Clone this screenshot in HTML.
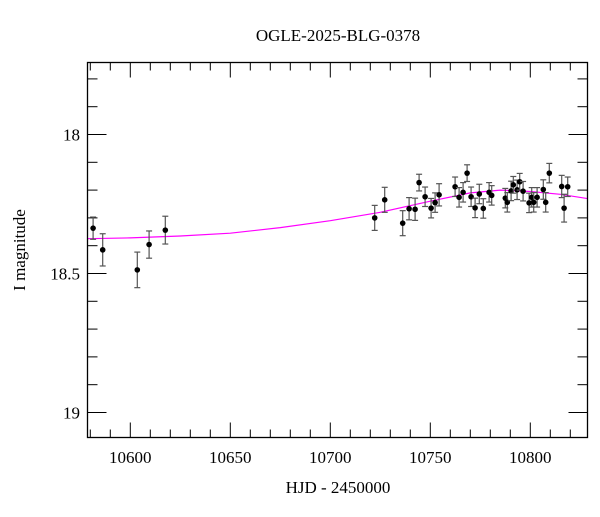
<!DOCTYPE html>
<html><head><meta charset="utf-8">
<style>
html,body{margin:0;padding:0;background:#fff;}
svg text{font-family:"Liberation Serif",serif;fill:#000;}
</style></head>
<body>
<svg id="chart" width="600" height="512" viewBox="0 0 600 512" xmlns="http://www.w3.org/2000/svg">
<text x="338" y="41" font-size="17" text-anchor="middle">OGLE-2025-BLG-0378</text>
<text x="338" y="493" font-size="17" text-anchor="middle">HJD - 2450000</text>
<text x="0" y="0" font-size="17" text-anchor="middle" transform="translate(25,250) rotate(-90)">I magnitude</text>
<g id="axes"></g>
<g id="model"></g>
<g id="points"></g>
<rect x="87.5" y="62.5" width="500" height="375" fill="none" stroke="#000" stroke-width="1.3"/>
</svg>
<script>
const days=[10581.4,10586.2,10603.5,10609.4,10617.5,10722.2,10727.2,10736.2,10739.4,10742.4,10744.4,10747.4,10750.4,10752.4,10754.4,10762.4,10764.4,10766.4,10768.4,10770.4,10772.4,10774.5,10776.5,10779.4,10780.7,10787.5,10788.5,10790.4,10791.5,10793.4,10794.7,10796.4,10799.4,10800.7,10801.7,10803.4,10806.5,10807.7,10809.5,10815.7,10816.9,10818.7];
const mags=[18.337,18.415,18.487,18.396,18.344,18.300,18.235,18.319,18.267,18.269,18.173,18.224,18.265,18.245,18.217,18.188,18.226,18.208,18.139,18.224,18.264,18.214,18.266,18.208,18.219,18.229,18.244,18.203,18.181,18.199,18.170,18.204,18.246,18.226,18.244,18.226,18.198,18.244,18.139,18.187,18.265,18.188];
const errs=[0.04,0.058,0.064,0.049,0.05,0.045,0.045,0.045,0.04,0.04,0.03,0.035,0.035,0.035,0.04,0.035,0.035,0.035,0.03,0.035,0.035,0.035,0.035,0.035,0.035,0.035,0.035,0.035,0.03,0.035,0.03,0.035,0.035,0.035,0.035,0.035,0.035,0.035,0.035,0.04,0.05,0.035];
const modelDays=[10578,10600,10625,10650,10675,10700,10725,10750,10770,10785,10800,10815,10830];
const modelMags=[18.375,18.372,18.365,18.355,18.335,18.31,18.28,18.24,18.21,18.2,18.205,18.215,18.232];
const xTicks=[10600,10650,10700,10750,10800];
const yTicks=[18,18.5,19];
const X0=10578.6,X1=10828.6,Y0=17.741,Y1=19.09;
const L=87.5,R=587.5,T=62.5,B=437.5;
const NS="http://www.w3.org/2000/svg";
function sx(d){return L+(d-X0)/(X1-X0)*(R-L);}
function sy(m){return T+(m-Y0)/(Y1-Y0)*(B-T);}
function mk(tag,attrs,parent){const e=document.createElementNS(NS,tag);for(const k in attrs)e.setAttribute(k,attrs[k]);parent.appendChild(e);return e;}
const axes=document.getElementById('axes');
for(let d=10580;d<=10820;d+=10){
  const major=d%50===0;const len=major?15:8;const x=sx(d);
  const t1=mk('line',{x1:x,x2:x,y1:B,y2:B-len,stroke:'#000','stroke-width':1},axes);
  
  
  const t2=mk('line',{x1:x,x2:x,y1:T,y2:T+len,stroke:'#000','stroke-width':1},axes);
  
  
}
xTicks.forEach(d=>{
  const t=mk('text',{x:sx(d),y:463,'font-size':17,'text-anchor':'middle'},axes);t.textContent=d;
  
  
});
for(let i=18;i<=19.9;i+=1){}
for(let k=178;k<=190;k++){
  const m=k/10;const major=k%5===0;const len=major?19:10;const y=sy(m);
  const t1=mk('line',{x1:L,x2:L+len,y1:y,y2:y,stroke:'#000','stroke-width':1},axes);
  
  
  const t2=mk('line',{x1:R,x2:R-len,y1:y,y2:y,stroke:'#000','stroke-width':1},axes);
  
  
}
yTicks.forEach(m=>{
  const t=mk('text',{x:80,y:sy(m)+6,'font-size':17,'text-anchor':'end'},axes);t.textContent=m;
  
  
});
const model=document.getElementById('model');
const pts=modelDays.map((d,i)=>sx(d).toFixed(1)+','+sy(modelMags[i]).toFixed(1)).join(' ');
const pl=mk('polyline',{points:pts,fill:'none',stroke:'#ff00ff','stroke-width':1.2},model);


document.getElementById('chart').insertBefore(mk('clipPath',{id:'clip'},document.getElementById('chart')),model);
mk('rect',{x:L,y:T,width:R-L,height:B-T},document.getElementById('clip'));
model.setAttribute('clip-path','url(#clip)');
const pg=document.getElementById('points');
days.forEach((d,i)=>{
  const x=sx(d),y=sy(mags[i]),y1=sy(mags[i]-errs[i]),y2=sy(mags[i]+errs[i]);
  const g=mk('g',{},pg);
  
  
  mk('line',{x1:x,x2:x,y1:y1,y2:y2,stroke:'#555','stroke-width':1.2},g);
  mk('line',{x1:x-3,x2:x+3,y1:y1,y2:y1,stroke:'#555','stroke-width':1.2},g);
  mk('line',{x1:x-3,x2:x+3,y1:y2,y2:y2,stroke:'#555','stroke-width':1.2},g);
  mk('circle',{cx:x,cy:y,r:2.8,fill:'#000'},g);
});
</script>
</body></html>
